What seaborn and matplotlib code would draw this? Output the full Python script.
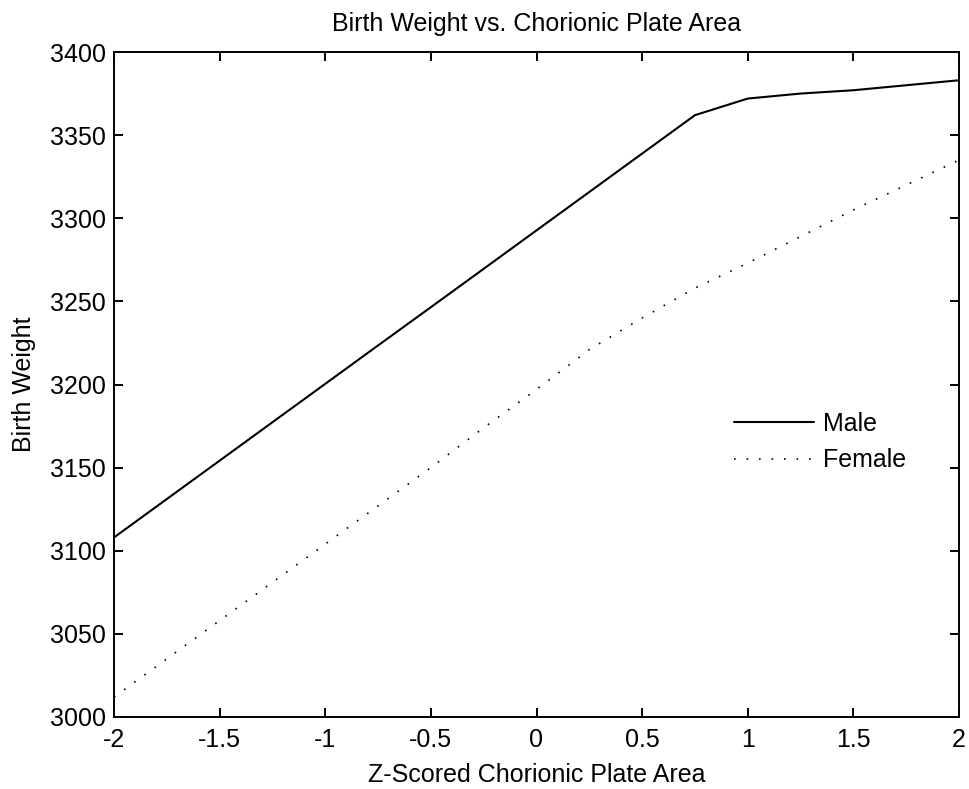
import matplotlib
matplotlib.use("Agg")
import matplotlib.pyplot as plt
import seaborn as sns
import pandas as pd

# Data
z_area = [-2.0, -1.75, -1.5, -1.25, -1.0, -0.75, -0.5, -0.25, 0.0,
          0.25, 0.5, 0.75, 1.0, 1.25, 1.5, 1.75, 2.0]
male_bw = [3108, 3131.1, 3154.2, 3177.3, 3200.4, 3223.5, 3246.5, 3269.6, 3292.7,
           3315.8, 3338.9, 3362, 3372, 3375, 3377, 3380, 3383]
female_bw = [3012, 3035, 3058, 3081, 3104, 3127, 3150, 3174, 3197,
             3221, 3240, 3258, 3273, 3289, 3305, 3320, 3335]
x_ticks = [-2, -1.5, -1, -0.5, 0, 0.5, 1, 1.5, 2]
x_tick_labels = ["-2", "-1.5", "-1", "-0.5", "0", "0.5", "1", "1.5", "2"]
y_ticks = [3000, 3050, 3100, 3150, 3200, 3250, 3300, 3350, 3400]

sns.set_style("ticks")
plt.rcParams["font.family"] = ["Liberation Sans", "DejaVu Sans"]
plt.rcParams["font.size"] = 18
plt.rcParams["text.color"] = "black"
plt.rcParams["axes.labelcolor"] = "black"

FS = 18

df_m = pd.DataFrame({"z": z_area, "bw": male_bw})
df_f = pd.DataFrame({"z": z_area, "bw": female_bw})

fig = plt.figure(figsize=(9.69, 7.89), dpi=100)
ax = fig.add_axes([114 / 969, (789 - 717) / 789, 845 / 969, 665 / 789])

sns.lineplot(data=df_m, x="z", y="bw", ax=ax, color="black",
             linewidth=1.5, label="Male")
sns.lineplot(data=df_f, x="z", y="bw", ax=ax, color="black",
             linewidth=1.2, linestyle=(0, (1, 6.5)), label="Female")

ax.set_xlim(-2, 2)
ax.set_ylim(3000, 3400)
ax.set_xticks(x_ticks)
ax.set_xticklabels(x_tick_labels)
ax.set_yticks(y_ticks)
ax.set_yticklabels([str(v) for v in y_ticks])

for s in ax.spines.values():
    s.set_visible(True)
    s.set_linewidth(1.4)
    s.set_color("black")

ax.tick_params(direction="in", length=6.5, width=1.4, top=True, right=True,
               labelsize=FS, colors="black")
ax.tick_params(axis="x", pad=8)
ax.tick_params(axis="y", pad=6)

ax.set_title("Birth Weight vs. Chorionic Plate Area", fontsize=FS, pad=15,
             color="black")
ax.set_xlabel("Z-Scored Chorionic Plate Area", fontsize=FS, labelpad=8,
              color="black")
ax.set_ylabel("Birth Weight", fontsize=FS, labelpad=10, color="black")

leg = ax.legend(loc="center left", bbox_to_anchor=((734 - 114) / 845, (717 - 442) / 665),
                frameon=False, fontsize=FS, handlelength=3.2, handletextpad=0.35,
                labelspacing=0.5, borderpad=0, borderaxespad=0)
for t in leg.get_texts():
    t.set_color("black")

fig.savefig("out.png", dpi=100)
